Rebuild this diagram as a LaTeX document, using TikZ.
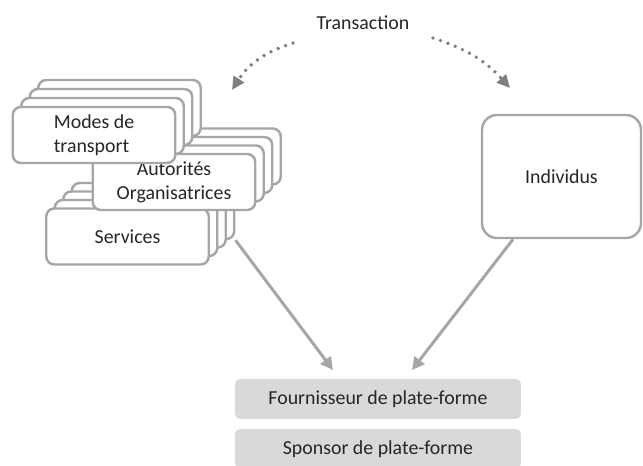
\documentclass[tikz,border=0pt]{standalone}
\usepackage{fontspec}
\setmainfont{Carlito}
\usepackage{xcolor}
\usetikzlibrary{arrows.meta}

\definecolor{edgegray}{HTML}{A6A6A6}
\definecolor{dotgray}{HTML}{7F7F7F}
\definecolor{platgray}{HTML}{D9D9D9}

\tikzset{
  layer/.style={draw=edgegray, line width=1.4pt, fill=white, rounded corners=0.16cm,
    minimum width=3.25cm, minimum height=1.12cm, inner sep=0pt, align=center, text=black!85},
  platbox/.style={fill=platgray, rounded corners=0.1cm, minimum width=5.72cm,
    minimum height=0.8cm, inner sep=0pt, text=black!85},
  flow/.style={draw=edgegray, line width=1.7pt, -{Triangle[length=0.25cm,width=0.25cm]}},
  trans/.style={draw=dotgray, line width=2.2pt, line cap=round, dash pattern=on 0pt off 4.5pt,
    -{Triangle[length=0.26cm,width=0.24cm]}}
}

\begin{document}
\begin{tikzpicture}[font=\fontsize{11.3}{13.6}\selectfont]
\useasboundingbox (0,0) rectangle (12.86,9.32);

% Services stack
\node[layer] (serv3) at (3.06,5.10) {};
\node[layer] (serv2) at (2.89,4.93) {};
\node[layer] (serv1) at (2.72,4.76) {};
\node[layer] (serv) at (2.55,4.59) {Services};

% Autorites stack
\node[layer] (auto3) at (3.99,6.19) {};
\node[layer] (auto2) at (3.82,6.02) {};
\node[layer] (auto1) at (3.65,5.85) {};
\node[layer] (auto) at (3.48,5.68) {Autorités\\Organisatrices};

% Modes stack
\node[layer] (modes3) at (2.39,7.16) {};
\node[layer] (modes2) at (2.22,6.98) {};
\node[layer] (modes1) at (2.05,6.80) {};
\node[layer, align=left] (modes) at (1.88,6.62) {Modes de\\transport};

\node[layer, rounded corners=0.3cm, minimum width=3.18cm, minimum height=2.46cm] (indiv) at (11.23,5.79) {Individus};

\node[text=black!85] (transac) at (7.26,8.86) {Transaction};

\node[platbox] (fourn) at (7.56,1.34) {Fournisseur de plate-forme};
\node[platbox] (sponsor) at (7.56,0.34) {Sponsor de plate-forme};

\coordinate (tleft) at (5.86,8.46);
\coordinate (tleftend) at (4.64,7.52);
\coordinate (tright) at (8.66,8.56);
\coordinate (trightend) at (10.20,7.56);
\coordinate (inleft) at (6.66,1.92);
\coordinate (inright) at (8.24,1.92);

\draw[trans] (tleft) to[bend right=20] (tleftend);
\draw[trans] (tright) to[bend left=15] (trightend);

\draw[flow] (serv3.south east) -- (inleft);
\draw[flow] (indiv) -- (inright);
\end{tikzpicture}
\end{document}
